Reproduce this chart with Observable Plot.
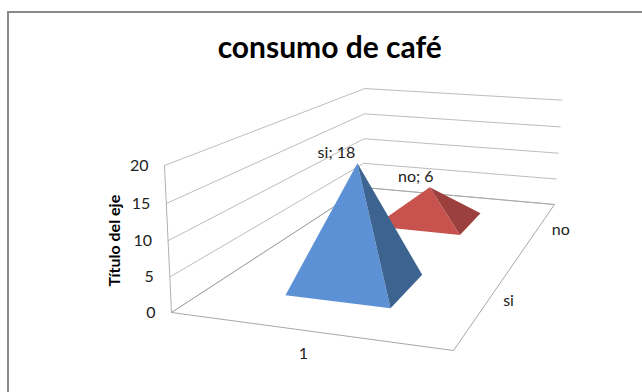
<!DOCTYPE html>
<html lang="es">
<head>
<meta charset="utf-8">
<title>consumo de café</title>
<script src="https://cdn.jsdelivr.net/npm/d3@7"></script>
<script src="https://cdn.jsdelivr.net/npm/@observablehq/plot@0.6"></script>
<style>
  html, body { margin: 0; padding: 0; background: #fff; }
  svg { display: block; }
</style>
</head>
<body>
<script>
// Chart content
const chartTitle = "consumo de café";
const axisTitle = "Título del eje";
const seriesNames = ["si", "no"];
const seriesValues = [18, 6];
const categoryLabels = ["1"];
const valueTicks = [0, 5, 10, 15, 20];
const valueMax = 20;

// Perspective camera: u runs along the category axis, v runs into the depth,
// w is the value as a fraction of the axis maximum.
function project(u, v, w) {
  const d = 1 - 0.08323 * u + 0.52045 * v - 0.045 * w;
  return {
    x: (171 + 244.3 * u + 380.92 * v - 14.4 * w) / d,
    y: (312 + 8.87 * u - 27.68 * v - 154.4 * w) / d
  };
}
const at = (value) => value / valueMax;
const depthOf = (i) => (i + 0.5) / seriesNames.length;

// Wireframe of the floor and the two walls
const floorOutline = [[0, 0], [1, 0], [1, 1], [0, 1], [0, 0]].map(([u, v]) => project(u, v, 0));
const wallEdge = [project(0, 0, 0), project(0, 0, 1)];
const gridLines = valueTicks.map((t) => [
  project(0, 0, at(t)), project(0, 1, at(t)), project(1, 1, at(t))
]);

// Pyramid faces for one series, painted from the back of the chart forward
const centerU = 0.495, halfU = 0.2, halfV = 0.1;
function pyramid(i) {
  const v = depthOf(i), h = at(seriesValues[i]);
  const apex = project(centerU, v, h);
  const frontLeft = project(centerU - halfU, v - halfV, 0);
  const frontRight = project(centerU + halfU, v - halfV, 0);
  const backRight = project(centerU + halfU, v + halfV, 0);
  return { apex, front: [frontLeft, frontRight, apex], side: [frontRight, backRight, apex] };
}
const faceColors = [
  { front: "#5c91d6", side: "#3d6491" },
  { front: "#c8524e", side: "#9b403d" }
];
const paintOrder = d3.range(seriesNames.length).reverse();
const faceMarks = paintOrder.flatMap((i) => {
  const p = pyramid(i);
  return [
    Plot.line(p.front, { x: "x", y: "y", fill: faceColors[i].front, stroke: "none" }),
    Plot.line(p.side, { x: "x", y: "y", fill: faceColors[i].side, stroke: "none" })
  ];
});

const font = "Lato, 'Open Sans', sans-serif";
const ink = "#222";

const tickLabels = valueTicks.map((t) => ({ ...project(0, 0, at(t)), label: String(t) }));
const depthLabels = seriesNames.map((name, i) => ({ ...project(1, depthOf(i), 0), label: name }));
const categoryMarks = categoryLabels.map((label) => ({ ...project(0.5, 0, 0), label }));
const dataLabelShift = [-21, -14];
const dataLabels = seriesNames.map((name, i) => {
  const { x, y } = pyramid(i).apex;
  return { x: x + dataLabelShift[i], y, label: `${name}; ${seriesValues[i]}` };
});
const axisTitleAnchor = [project(0, 0, 0.5)];

const chart = Plot.plot({
  width: 642,
  height: 392,
  marginTop: 11.5,
  marginLeft: 7.5,
  marginRight: 0,
  marginBottom: 0,
  x: { type: "identity", axis: null },
  y: { type: "identity", axis: null },
  style: { background: "#fff", fontFamily: font },
  marks: [
    // Chart area border
    Plot.frame({ anchor: "top", stroke: "#8a8a8a", strokeWidth: 2, strokeOpacity: 1 }),
    Plot.frame({ anchor: "left", stroke: "#8a8a8a", strokeWidth: 2, strokeOpacity: 1 }),

    // Walls and floor
    ...gridLines.map((g) => Plot.line(g, { x: "x", y: "y", stroke: "#bdbdbd", strokeWidth: 1 })),
    Plot.line(wallEdge, { x: "x", y: "y", stroke: "#b0b0b0", strokeWidth: 1 }),
    Plot.line(floorOutline, { x: "x", y: "y", stroke: "#a8a8a8", strokeWidth: 1 }),

    ...faceMarks,

    // Axis and data labels
    Plot.text(tickLabels, { x: "x", y: "y", text: "label", textAnchor: "end", dx: -16, fontSize: 16, fill: ink }),
    Plot.text(categoryMarks, { x: "x", y: "y", text: "label", dy: 23, dx: -3, fontSize: 16, fill: ink }),
    Plot.text(depthLabels, { x: "x", y: "y", text: "label", textAnchor: "start", dx: 15, fontSize: 16, fill: ink }),
    Plot.text(dataLabels, { x: "x", y: "y", text: "label", dy: -10.5, fontSize: 16, fill: ink }),

    // Titles
    Plot.text([chartTitle], { frameAnchor: "top", dx: 4.5, dy: 25, lineAnchor: "top", fontSize: 30, fontWeight: 700, fill: "#000" }),
    Plot.text(axisTitleAnchor, { x: "x", y: "y", text: () => axisTitle, dx: -53, rotate: -90, fontSize: 16, fontWeight: 700, fill: "#000" })
  ]
});
document.body.appendChild(chart);
</script>
</body>
</html>
